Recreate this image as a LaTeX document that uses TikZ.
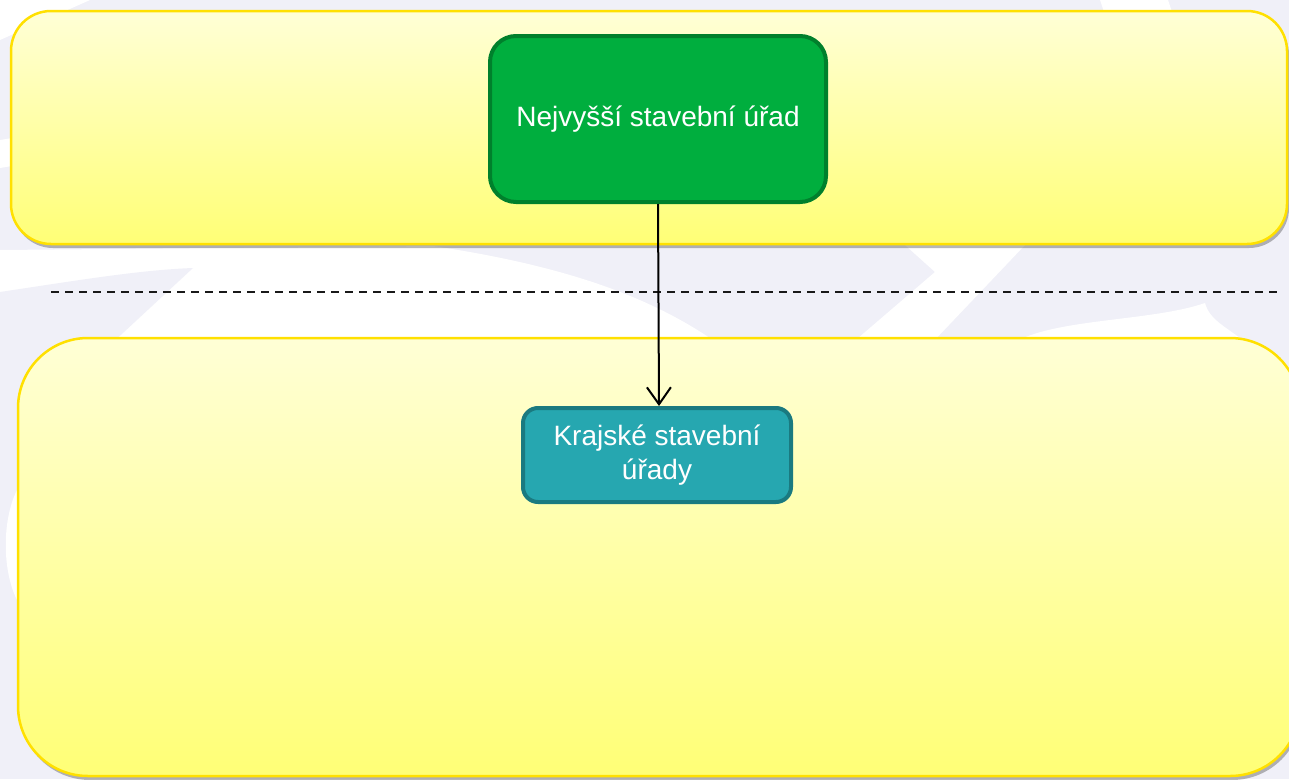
\documentclass[tikz,border=0pt]{standalone}
\usepackage{fontspec}
\setmainfont{Liberation Sans}
\usetikzlibrary{arrows.meta,shadows}
\definecolor{lav}{RGB}{240,240,248}
\definecolor{ytop}{RGB}{255,255,214}
\definecolor{ybot}{RGB}{255,255,118}
\definecolor{yborder}{RGB}{255,224,0}
\definecolor{gfill}{RGB}{0,174,62}
\definecolor{gborder}{RGB}{0,128,44}
\definecolor{tfill}{RGB}{38,167,176}
\definecolor{tborder}{RGB}{26,122,128}
\begin{document}
\begin{tikzpicture}[x=1pt,y=-1pt,
  panel/.style={draw=yborder, line width=2.5pt, rectangle, rounded corners=#1,
    top color=ytop, bottom color=ybot, inner sep=0pt, outer sep=0pt,
    drop shadow={shadow xshift=2pt, shadow yshift=-4pt, opacity=0.4, fill=black!70}},
  orgbox/.style={rectangle, line width=4pt, text=white, inner sep=0pt,
    font=\fontsize{28}{34}\selectfont, align=center},
  gbox/.style={orgbox, draw=gborder, fill=gfill, rounded corners=26pt},
  tbox/.style={orgbox, draw=tborder, fill=tfill, rounded corners=15pt},
  arr/.style={draw=black, line width=2pt, -{Straight Barb[length=17pt,width=24pt,line width=2pt]}},
  dashline/.style={draw=black!90, line width=2pt, dash pattern=on 8pt off 6pt}]
\useasboundingbox (0,0) rectangle (1289,779);
% background watermark
\fill[lav] (0,0) rectangle (1289,779);
\fill[white] (0,0) -- (90,0) -- (0,40) -- cycle;
\fill[white] (1100,0) -- (1168,0) -- (1172,12) -- (1104,12) -- cycle;
\fill[white] (0,140) -- (12,138) -- (12,166) -- (0,168) -- cycle;
\fill[white] (0,250) -- (433,246) .. controls (560,265) and (650,295) .. (720,345) -- (0,345) -- cycle;
\fill[lav] (0,292) .. controls (80,280) and (140,270) .. (193,268) -- (110,345) -- (0,345) -- cycle;
\fill[white] (905,245) -- (1025,245) -- (930,345) -- (850,345) -- (935,272) -- cycle;
\fill[white] (1010,345) .. controls (1050,318) and (1150,322) .. (1205,303)
  .. controls (1210,322) and (1230,328) .. (1248,345) -- cycle;
\fill[white] (17,490) .. controls (2,520) and (2,570) .. (17,600) -- cycle;
% panels
\node[panel=40pt, minimum width=1276pt, minimum height=233pt] (upper) at (649,127.5) {};
\node[panel=70pt, minimum width=1282pt, minimum height=438pt] (lower) at (659,557) {};
% dashed separator
\coordinate (dl) at (51,292);
\coordinate (dr) at (1279,292);
\draw[dashline] (dl) -- (dr);
% boxes
\node[gbox, minimum width=336pt, minimum height=166pt] (top) at (658,119) {Nejvyšší stavební úřad};
\node[tbox, minimum width=268pt, minimum height=94pt] (mid) at (657,455) {Krajské stavební\\úřady};
\draw[arr] (top.south) -- ([xshift=2pt]mid.north);
\end{tikzpicture}
\end{document}
